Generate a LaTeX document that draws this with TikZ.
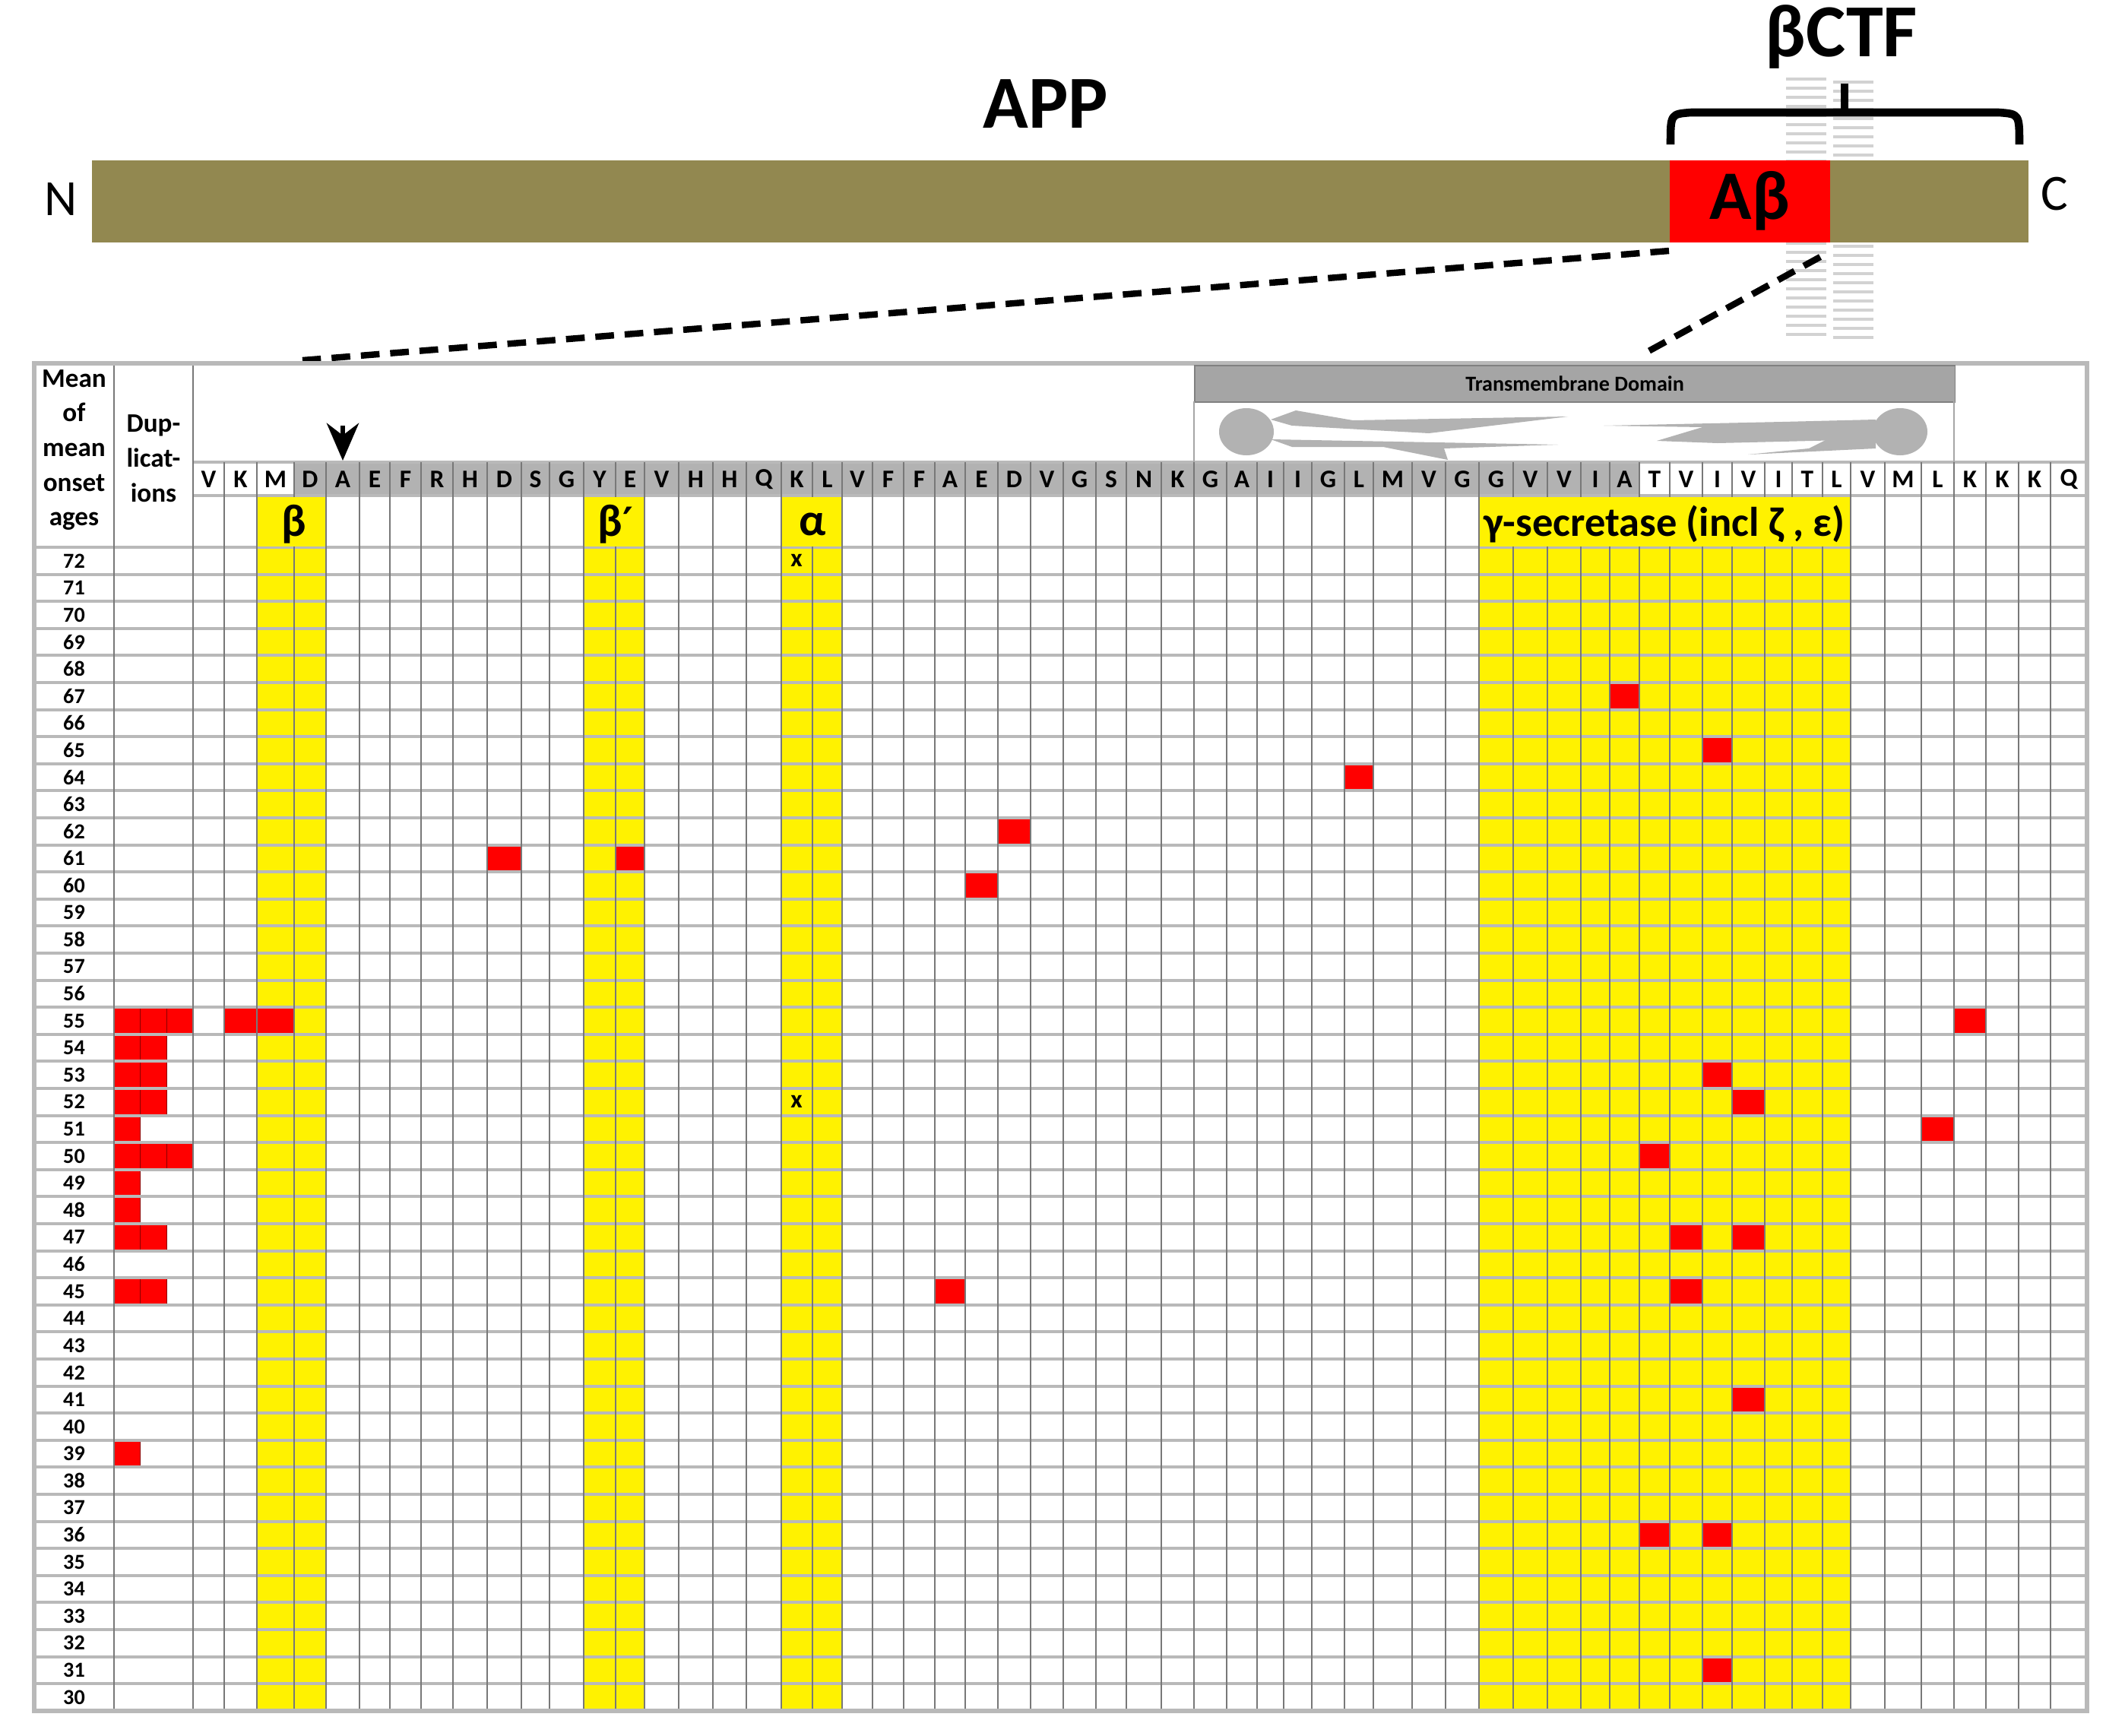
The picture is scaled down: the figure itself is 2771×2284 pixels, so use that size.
\documentclass[tikz,border=0pt]{standalone}
\usepackage{fontspec}
\setmainfont{Carlito}
\newfontfamily\djv{DejaVu Sans}
\usetikzlibrary{arrows.meta}
\definecolor{bar}{RGB}{146,136,80}
\definecolor{gline}{RGB}{185,185,185}
\definecolor{vline}{RGB}{120,120,120}
\definecolor{aagray}{RGB}{178,178,178}
\definecolor{tmgray}{RGB}{165,165,165}
\tikzset{
  redcell/.style={fill=red,draw=red!55!black,line width=0.3pt},
  aa/.style={font=\fontsize{9.5}{10}\selectfont\bfseries,inner sep=0pt},
  age/.style={font=\fontsize{8}{9}\selectfont\bfseries,inner sep=0pt},
  hdr/.style={font=\fontsize{10}{13}\selectfont\bfseries,align=center,inner sep=0pt},
  greek/.style={font=\fontsize{17}{18}\selectfont\bfseries,inner sep=0pt},
  dashln/.style={line width=2.4pt,dash pattern=on 7pt off 4pt},
}
\def\colarr{{254,295,338,387,429,473,513,554,596,641,686,723,768,810,848,893,938,982,1028,1069,1108,1148,1189,1230,1270,1313,1356,1399,1442,1482,1528,1571,1614,1654,1689,1726,1769,1807,1858,1902,1946,1991,2036,2080,2118,2157,2197,2240,2279,2322,2358,2398,2435,2480,2528,2571,2613,2656,2698,2746}}
\def\RH{35.6}
\def\RX{2746}
\newcommand\setcx[1]{\pgfmathsetmacro\xl{\colarr[#1]}\pgfmathsetmacro\xr{\colarr[#1+1]}\pgfmathsetmacro\xm{(\xl+\xr)/2}}
\begin{document}
\begin{tikzpicture}[x=0.01cm,y=-0.01cm]
\useasboundingbox (0,0) rectangle (2771,2284);
% bilayer
\foreach \yy in {104,116,...,440}{
  \draw[gray!35,line width=1.4pt] (2350,\yy) -- (2403,\yy);
  \draw[gray!35,line width=1.4pt] (2412,\yy+4) -- (2465,\yy+4);
}
% bar
\node[fill=bar,minimum width=25.47cm,minimum height=1.08cm,inner sep=0pt,anchor=north west] (bar) at (120,210) {};
\node[fill=red,minimum width=2.11cm,minimum height=1.08cm,inner sep=0pt,anchor=north west,font=\fontsize{26}{28}\selectfont\bfseries] (ab) at (2196,210) {Aβ};
\node[font=\fontsize{19}{20}\selectfont] (N) at (80,262) {N};
\node[font=\fontsize{19}{20}\selectfont] (C) at (2703,255) {C};
\node[font=\fontsize{28}{30}\selectfont\bfseries] (app) at (1376,137) {APP};
\node[font=\fontsize{28}{30}\selectfont\bfseries] (bctf) at (2423,48) {βCTF};
% brace
\draw[line width=3pt,line join=round] (2198,190) .. controls (2198,150) .. (2225,148) -- (2630,148) .. controls (2657,150) .. (2657,190);
\coordinate (tip) at (2427,110);
\draw[line width=3pt] (2427,148) -- (tip);
% dashed zoom lines
\coordinate (d1a) at (2196,330); \coordinate (d1b) at (398,474);
\coordinate (d2a) at (2395,338); \coordinate (d2b) at (2160,467);
\draw[dashln] (d1a) -- (d1b);
\draw[dashln] (d2a) -- (d2b);
% table background
\fill[white] (45,478) rectangle (\RX,2251);
% gray amino cells
\fill[aagray] (387,608) rectangle (2157,652);
% yellow columns
\foreach \a/\b in {2/4,12/14,18/20,40/52}{
  \pgfmathsetmacro\xa{\colarr[\a]}\pgfmathsetmacro\xb{\colarr[\b]}
  \fill[yellow] (\xa,652) rectangle (\xb,2251);
}
% red cells aa
\foreach \ag/\c in {67/44,65/47,64/36,62/25,61/9,61/13,60/24,55/1,55/2,55/55,53/47,52/48,51/54,50/45,47/46,47/48,45/23,45/46,41/48,36/45,36/47,31/47}{
  \setcx{\c}
  \draw[redcell] (\xl,720+72*\RH-\ag*\RH) rectangle (\xr,720+73*\RH-\ag*\RH);
}
% red cells dup
\foreach \ag/\c in {55/0,55/1,55/2,54/0,54/1,53/0,53/1,52/0,52/1,51/0,50/0,50/1,50/2,49/0,48/0,47/0,47/1,45/0,45/1,39/0}{
  \draw[redcell] (150+\c*34.67,720+72*\RH-\ag*\RH) rectangle (150+\c*34.67+34.67,720+73*\RH-\ag*\RH);
}
% horizontal lines
\draw[gline,line width=1.2pt] (254,608) -- (\RX,608);
\draw[gline,line width=1.2pt] (254,652) -- (\RX,652);
\foreach \i in {0,...,42}{
  \draw[gline,line width=1.1pt] (45,720+\i*\RH) -- (\RX,720+\i*\RH);
}
% vertical lines
\foreach \i in {1,...,58}{
  \pgfmathsetmacro\xv{\colarr[\i]}
  \draw[vline,line width=0.35pt] (\xv,608) -- (\xv,2251);
}
\draw[vline,line width=0.45pt] (150,478) -- (150,2251);
\draw[vline,line width=0.45pt] (254,478) -- (254,2251);
% yellow label cells cover inner lines
\foreach \a/\b in {2/4,12/14,18/20,40/52}{
  \pgfmathsetmacro\xa{\colarr[\a]}\pgfmathsetmacro\xb{\colarr[\b]}
  \fill[yellow] (\xa+0.6,653.5) rectangle (\xb-0.6,718.5);
}
% outer border
\draw[gline,line width=1.6pt] (45,478) rectangle (\RX,2251);
% transmembrane domain
\node[fill=tmgray,draw=gray,line width=0.5pt,minimum width=10.0cm,minimum height=0.48cm,inner sep=0pt,anchor=north west,font=\fontsize{8}{9}\selectfont\bfseries] (tm) at (1571,480) {Transmembrane Domain};
\draw[gray!70,line width=0.5pt] (1571,528) -- (1571,608);
\draw[gray!70,line width=0.5pt] (2571,528) -- (2571,608);
\begin{scope}[fill=gray!60]
\fill (1640,568) ellipse [x radius=36,y radius=31];
\fill (2500,568) ellipse [x radius=36,y radius=31];
\fill (1672,552) -- (1705,540) -- (1780,553) -- (2063,548) -- (1880,570) -- (1700,560) -- cycle;
\fill (1672,578) -- (1780,580) -- (2050,585) -- (1900,590) -- (1905,605) -- (1820,588) -- (1700,588) -- cycle;
\fill (2468,552) -- (2345,555) -- (2110,560) -- (2240,562) -- (2180,580) -- (2260,583) -- (2468,578) -- cycle;
\fill (2468,575) -- (2420,570) -- (2380,590) -- (2300,598) -- (2468,590) -- cycle;
\end{scope}
% arrow
\coordinate (arT) at (451,560);
\coordinate (arB) at (451,606);
\draw[line width=1.8pt,-{Stealth[length=14pt,width=12pt]}] (arT) -- (arB);
% header texts
\node[hdr] (mean) at (97.5,592) {Mean\\of\\mean\\onset\\ages};
\node[hdr] (dup) at (202,603) {Dup-\\licat-\\ions};
% amino letters
\foreach \L [count=\k from 0] in {V,K,M,D,A,E,F,R,H,D,S,G,Y,E,V,H,H,Q,K,L,V,F,F,A,E,D,V,G,S,N,K,G,A,I,I,G,L,M,V,G,G,V,V,I,A,T,V,I,V,I,T,L,V,M,L,K,K,K,Q}{
  \setcx{\k}
  \node[aa] (aa\k) at (\xm,631) {\L};
}
% greek labels
\node[greek] (lb) at (387,690) {β};
\node[greek] (lbp) at (810,690) {β{\djv\fontsize{15}{16}\selectfont ′}};
\node[greek] (la) at (1069,690) {α};
\node[greek,font=\fontsize{15.5}{17}\selectfont\bfseries] (lg) at (2190,690) {γ-secretase (incl ζ , ε)};
% ages
\foreach \i in {0,...,42}{
  \pgfmathtruncatemacro\ag{72-\i}
  \node[age] (age\ag) at (97.5,720+\i*\RH+0.5*\RH) {\ag};
}
% x marks
\node[aa] (x72) at (1048,720+0.5*\RH) {x};
\node[aa] (x52) at (1048,720+20.5*\RH) {x};
\end{tikzpicture}
\end{document}
